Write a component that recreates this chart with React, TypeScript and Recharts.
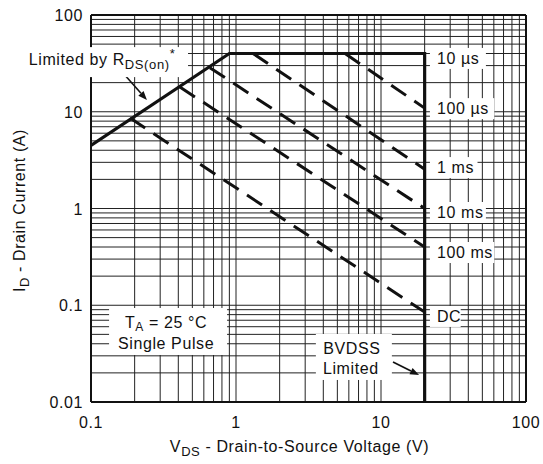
import React from "react";
import {
    ComposedChart,
    Line,
    XAxis,
    YAxis,
    CartesianGrid,
    ReferenceDot,
    ReferenceLine,
} from "recharts";

// log grid: decades times 1..9
const X_DECADES = [0.1, 1, 10];
const Y_DECADES = [0.01, 0.1, 1, 10];
const MULTIPLIERS = [1, 2, 3, 4, 5, 6, 7, 8, 9];
const X_LABELS = [0.1, 1, 10, 100];
const Y_LABELS = [0.01, 0.1, 1, 10, 100];

// solid SOA boundary (RDS(on) limit, current limit, BVDSS)
const LIMIT_V = [0.1, 0.9, 20, 20];
const LIMIT_I = [4.5, 40, 40, 0.01];

// dashed pulse lines
const PULSE_NAMES = ["100us", "1ms", "10ms", "100ms", "DC"];
const PULSE_START_V = [5.65, 1.31, 0.66, 0.41, 0.186];
const PULSE_START_I = [40, 40, 28.5, 18, 8.6];
const PULSE_END_V = [20, 20, 20, 20, 20];
const PULSE_END_I = [10.9, 2.55, 1.0, 0.4, 0.085];

// curve labels right of the BVDSS line
const CURVE_LABELS = ["10 µs", "100 µs", "1 ms", "10 ms", "100 ms", "DC"];
const CURVE_LABEL_I = [36, 10.9, 2.68, 0.92, 0.355, 0.0775];
const CURVE_LABEL_V = 24.3;

const FONT = { fontFamily: "'Liberation Sans', Arial, sans-serif", fontSize: 16, letterSpacing: 0.6, fill: "#111" };

const xTicks = X_DECADES.flatMap((d) => MULTIPLIERS.map((m) => +(d * m).toPrecision(3))).concat([100]);
const yTicks = Y_DECADES.flatMap((d) => MULTIPLIERS.map((m) => +(d * m).toPrecision(3))).concat([100]);

const isLabel = (list: number[], v: number) => list.some((l) => Math.abs(l - v) < 1e-9);

const limitData = LIMIT_V.map((v, k) => ({ v, i: LIMIT_I[k] }));
const pulseData = PULSE_NAMES.map((name, k) => ({
    name,
    points: [
        { v: PULSE_START_V[k], i: PULSE_START_I[k] },
        { v: PULSE_END_V[k], i: PULSE_END_I[k] },
    ],
}));

// eslint-disable-next-line @typescript-eslint/no-explicit-any
const XTick = (props: any) => {
    const { x, y, payload } = props;
    if (!isLabel(X_LABELS, payload.value)) return <g />;
    return (
        <text x={x} y={y + 26} textAnchor="middle" style={FONT}>
            {String(payload.value)}
        </text>
    );
};

// eslint-disable-next-line @typescript-eslint/no-explicit-any
const YTick = (props: any) => {
    const { x, y, payload } = props;
    if (!isLabel(Y_LABELS, payload.value)) return <g />;
    return (
        <text x={x - 8} y={y + 6} textAnchor="end" style={FONT}>
            {String(payload.value)}
        </text>
    );
};

// eslint-disable-next-line @typescript-eslint/no-explicit-any
const XTitle = (props: any) => {
    const { x, width, y } = props.viewBox;
    return (
        <text x={x + width / 2 - 9} y={y + 50} textAnchor="middle" style={FONT}>
            V<tspan dy={4} fontSize={13}>DS</tspan>
            <tspan dy={-4}> - Drain-to-Source Voltage (V)</tspan>
        </text>
    );
};

// eslint-disable-next-line @typescript-eslint/no-explicit-any
const YTitle = (props: any) => {
    const { y, height } = props.viewBox;
    const cx = 25;
    const cy = y + height / 2 + 2;
    return (
        <text x={cx} y={cy} textAnchor="middle" transform={`rotate(-90, ${cx}, ${cy})`} style={FONT}>
            I<tspan dy={4} fontSize={13}>D</tspan>
            <tspan dy={-4}> - Drain Current (A)</tspan>
        </text>
    );
};

// eslint-disable-next-line @typescript-eslint/no-explicit-any
const Arrow = (props: any) => {
    const { x1, y1, x2, y2 } = props;
    const a = Math.atan2(y2 - y1, x2 - x1);
    const len = 9;
    const w = 3.5;
    const bx = x2 - len * Math.cos(a);
    const by = y2 - len * Math.sin(a);
    const px = -Math.sin(a) * w;
    const py = Math.cos(a) * w;
    return (
        <g>
            <line x1={x1} y1={y1} x2={bx} y2={by} stroke="#111" strokeWidth={1.6} />
            <polygon points={`${x2},${y2} ${bx + px},${by + py} ${bx - px},${by - py}`} fill="#111" />
        </g>
    );
};

// eslint-disable-next-line @typescript-eslint/no-explicit-any
const curveLabel = (text: string) => (props: any) => {
    const { cx, cy } = props;
    const w = text.length * 8.4 + 14;
    return (
        <g>
            <rect x={cx - 7} y={cy - 10} width={w} height={21} fill="#fff" />
            <text x={cx} y={cy + 6} style={FONT}>
                {text}
            </text>
        </g>
    );
};

// eslint-disable-next-line @typescript-eslint/no-explicit-any
const RdsLabel = (props: any) => {
    const { cx, cy } = props;
    return (
        <g>
            <rect x={cx - 84} y={cy - 15} width={168} height={30} fill="#fff" />
            <text x={cx - 2} y={cy + 3} textAnchor="middle" style={FONT}>
                Limited by R<tspan dy={4} fontSize={13}>DS(on)</tspan>
                <tspan dy={-11} fontSize={13}>*</tspan>
            </text>
        </g>
    );
};

// eslint-disable-next-line @typescript-eslint/no-explicit-any
const TaLabel = (props: any) => {
    const { cx, cy } = props;
    return (
        <g>
            <rect x={cx - 59} y={cy - 23} width={118} height={47} fill="#fff" />
            <text x={cx - 2} y={cy - 3} textAnchor="middle" style={FONT}>
                T<tspan dy={3} fontSize={12}>A</tspan>
                <tspan dy={-3}> = 25 °C</tspan>
            </text>
            <text x={cx - 2} y={cy + 18} textAnchor="middle" style={FONT}>
                Single Pulse
            </text>
        </g>
    );
};

// eslint-disable-next-line @typescript-eslint/no-explicit-any
const BvdssLabel = (props: any) => {
    const { cx, cy } = props;
    return (
        <g>
            <rect x={cx - 38} y={cy - 23} width={76} height={46} fill="#fff" />
            <text x={cx - 2} y={cy - 3} textAnchor="middle" style={FONT}>
                BVDSS
            </text>
            <text x={cx - 3} y={cy + 17} textAnchor="middle" style={FONT}>
                Limited
            </text>
        </g>
    );
};

export default function App() {
    return (
        <div style={{ position: "absolute", left: 0, top: 0, background: "#fff" }}>
            <ComposedChart width={543} height={464} margin={{ top: 15, right: 17, bottom: 0, left: 0 }}>
                <CartesianGrid stroke="#222" strokeWidth={1} />
                <XAxis
                    type="number"
                    dataKey="v"
                    scale="log"
                    domain={[0.1, 100]}
                    allowDataOverflow
                    ticks={xTicks}
                    interval={0}
                    tick={<XTick />}
                    tickLine={false}
                    tickSize={0}
                    tickMargin={0}
                    axisLine={{ stroke: "#111", strokeWidth: 2 }}
                    height={62}
                    label={<XTitle />}
                />
                <YAxis
                    type="number"
                    scale="log"
                    domain={[0.01, 100]}
                    allowDataOverflow
                    ticks={yTicks}
                    interval={0}
                    tick={<YTick />}
                    tickLine={false}
                    tickSize={0}
                    tickMargin={0}
                    axisLine={{ stroke: "#111", strokeWidth: 2 }}
                    width={91}
                    label={<YTitle />}
                />
                <ReferenceLine x={100} stroke="#111" strokeWidth={2} />
                <ReferenceLine y={100} stroke="#111" strokeWidth={2} />
                {pulseData.map((p) => (
                    <Line
                        key={p.name}
                        data={p.points}
                        dataKey="i"
                        type="linear"
                        stroke="#111"
                        strokeWidth={3}
                        strokeDasharray="18 10"
                        dot={false}
                        activeDot={false}
                        isAnimationActive={false}
                    />
                ))}
                <Line
                    data={limitData}
                    dataKey="i"
                    type="linear"
                    stroke="#111"
                    strokeWidth={3.2}
                    dot={false}
                    activeDot={false}
                    isAnimationActive={false}
                />
                {CURVE_LABELS.map((t, k) => (
                    <ReferenceDot key={t} x={CURVE_LABEL_V} y={CURVE_LABEL_I[k]} r={0} shape={curveLabel(t)} />
                ))}
                <ReferenceDot x={0.123} y={32.6} r={0} ifOverflow="visible" shape={<RdsLabel />} />
                <ReferenceDot x={0.34} y={0.0542} r={0} shape={<TaLabel />} />
                <ReferenceDot x={6.5} y={0.0292} r={0} shape={<BvdssLabel />} />
                <ReferenceLine segment={[{ x: 0.171, y: 24 }, { x: 0.243, y: 13.2 }]} shape={<Arrow />} />
                <ReferenceLine segment={[{ x: 12.1, y: 0.0259 }, { x: 18.3, y: 0.019 }]} shape={<Arrow />} />
            </ComposedChart>
        </div>
    );
}
